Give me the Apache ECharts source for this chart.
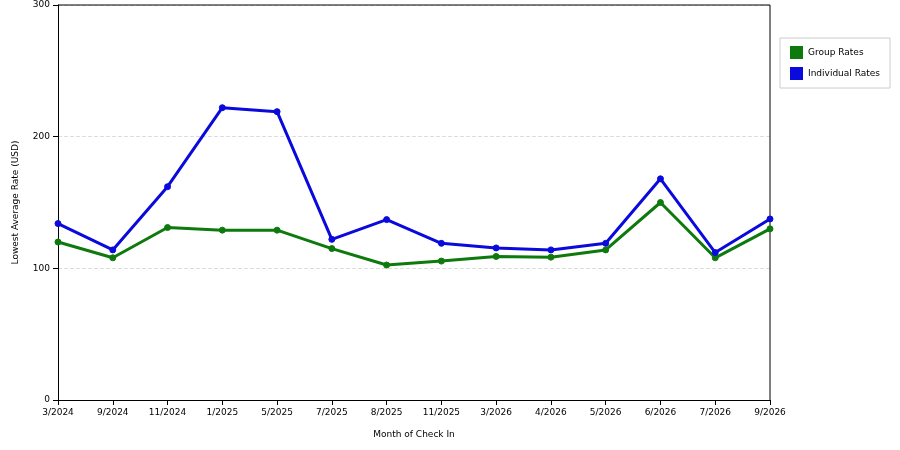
<!DOCTYPE html>
<html><head><meta charset="utf-8">
<script src="https://cdn.jsdelivr.net/npm/echarts@6/dist/echarts.min.js"></script>
<style>html,body{margin:0;padding:0;background:#fff}#c{width:900px;height:450px}</style>
</head><body><div id="c"></div>
<script>
const categories=["3/2024","9/2024","11/2024","1/2025","5/2025","7/2025","8/2025","11/2025","3/2026","4/2026","5/2026","6/2026","7/2026","9/2026"];
const groupRates=[120,108,131,129,129,115,102.5,105.5,109,108.5,114,150,108,130];
const individualRates=[134,114,162,222,219,122,137,119,115.5,114,119,168,112,137.5];
const yTicks=[0,100,200,300];
const chart=echarts.init(document.getElementById('c'));
const font='DejaVu Sans';
function s(name,data,color){return{name,type:'line',data,symbol:'circle',symbolSize:6,
 lineStyle:{color,width:3},itemStyle:{color,borderColor:color},animation:false};}
chart.setOption({
 animation:false,
 grid:{left:58,right:130,top:5,bottom:50},
 legend:{orient:'vertical',right:10,top:38,itemWidth:13,itemHeight:13,itemGap:8,
  padding:[8,10,8,10],borderColor:'#ccc',borderWidth:1,
  textStyle:{fontFamily:font,fontSize:9,color:'#000'},
  data:[{name:'Group Rates',icon:'rect'},{name:'Individual Rates',icon:'rect'}]},
 xAxis:{type:'category',data:categories,boundaryGap:false,name:'Month of Check In',nameLocation:'middle',nameGap:30,
  nameTextStyle:{fontFamily:font,fontSize:9,color:'#000'},
  axisLine:{lineStyle:{color:'#000'}},axisTick:{alignWithLabel:true,lineStyle:{color:'#000'}},
  axisLabel:{fontFamily:font,fontSize:9,color:'#000',interval:0},splitLine:{show:false}},
 yAxis:{type:'value',min:yTicks[0],max:yTicks[yTicks.length-1],interval:100,name:'Lowest Average Rate (USD)',
  nameLocation:'middle',nameGap:38,nameTextStyle:{fontFamily:font,fontSize:9,color:'#000'},
  axisLine:{show:true,lineStyle:{color:'#000'}},axisTick:{show:true,lineStyle:{color:'#000'}},
  axisLabel:{fontFamily:font,fontSize:9,color:'#000'},
  splitLine:{lineStyle:{type:'dashed',color:'#ddd'}}},
 series:[s('Group Rates',groupRates,'#0e7a0d'),s('Individual Rates',individualRates,'#0a0adc')]
});
// right border of plot
chart.setOption({graphic:[{type:'line',shape:{x1:770,y1:5,x2:770,y2:400},style:{stroke:'#000',lineWidth:1}},
 {type:'line',shape:{x1:58,y1:5,x2:770,y2:5},style:{stroke:'#000',lineWidth:1}}]});
</script></body></html>
